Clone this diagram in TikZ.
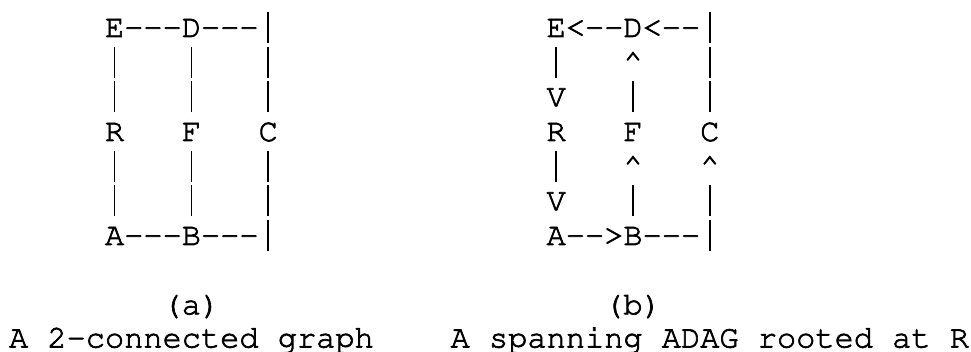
\documentclass[tikz,border=0pt]{standalone}
\usepackage[T1]{fontenc}
% Courier-style monospaced text, 32pt: one character cell = 19.2pt
\newcommand\asc{\fontfamily{pcr}\fontsize{32}{34}\selectfont}
\newcommand\gp{\hphantom{0}}
\newcommand\three{\gp\gp\gp}
\newcommand\hy{{-}}
\newcommand\up{\textasciicircum}
% tall bar filling the line, as in the typewriter face used
\newcommand\vb{\makebox[19.2pt][c]{\rule[-6pt]{1.7pt}{31pt}}}
% slightly heavier glyphs: fill and stroke the text outlines
\newcommand\heavy[1]{\special{pdf:literal direct 2 Tr 0.7 w}#1\special{pdf:literal direct 0 Tr}}
\tikzset{row/.style={anchor=base west, inner sep=0pt, outer sep=0pt, font=\asc}}
\begin{document}
\begin{tikzpicture}[x=1pt,y=1pt]
\useasboundingbox (0,0) rectangle (971,-352);
% column c starts at 9+19.2c ; row r has its baseline at 37+34.67r
% (a) the graph
\node[row] (a0) at (105,-37)     {\heavy{E\hy\hy\hy D\hy\hy\hy}\vb};
\node[row] (a1) at (105,-71.67)  {\vb\three\vb\three\vb};
\node[row] (a2) at (105,-106.33) {\vb\three\vb\three\vb};
\node[row] (a3) at (105,-141)    {\heavy{R\three F\three C}};
\node[row] (a4) at (105,-175.67) {\vb\three\vb\three\vb};
\node[row] (a5) at (105,-210.33) {\vb\three\vb\three\vb};
\node[row] (a6) at (105,-245)    {\heavy{A\hy\hy\hy B\hy\hy\hy}\vb};
% (b) the spanning ADAG
\node[row] (b0) at (546.6,-37)     {\heavy{E<\hy\hy D<\hy\hy}\vb};
\node[row] (b1) at (546.6,-71.67)  {\vb\three\heavy{\up}\three\vb};
\node[row] (b2) at (546.6,-106.33) {\heavy{V}\three\vb\three\vb};
\node[row] (b3) at (546.6,-141)    {\heavy{R\three F\three C}};
\node[row] (b4) at (546.6,-175.67) {\vb\three\heavy{\up\three\up}};
\node[row] (b5) at (546.6,-210.33) {\heavy{V}\three\vb\three\vb};
\node[row] (b6) at (546.6,-245)    {\heavy{A\hy\hy>B\hy\hy\hy}\vb};
% captions
\node[row] (capa) at (162.6,-314.33) {\heavy{(a)}};
\node[row] (capb) at (604.2,-314.33) {\heavy{(b)}};
\node[row] (tita) at (9,-347.5)     {\heavy{A 2\hy connected graph}};
\node[row] (titb) at (450.6,-347.5) {\heavy{A spanning ADAG rooted at R}};
\end{tikzpicture}
\end{document}
